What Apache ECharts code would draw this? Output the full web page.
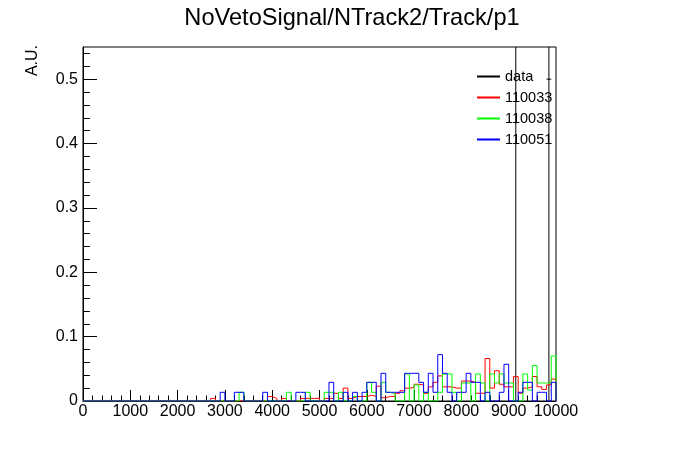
<!DOCTYPE html>
<html>
<head>
<meta charset="utf-8">
<script src="https://cdn.jsdelivr.net/npm/echarts@6/dist/echarts.min.js"></script>
<style>html,body{margin:0;padding:0;background:#fff;}#c{width:696px;height:472px;}</style>
</head>
<body>
<div id="c"></div>
<script>
const titleText = 'NoVetoSignal/NTrack2/Track/p1';
const yAxisTitle = 'A.U.';
const seriesNames = ['data', '110033', '110038', '110051'];
const binLow = 0, binWidth = 100;
// histogram contents per bin (100 bins, 0..10000)
const red = [
 0,0,0,0,0,0,0,0,0,0,
 0,0,0,0,0,0,0,0,0,0,
 0,0,0,0,0,0,0,0.004,0,0,
 0,0,0,0,0,0,0,0,0,0.007,
 0.004,0,0.004,0,0,0,0.004,0.004,0.004,0.004,
 0,0.004,0.004,0.012,0.004,0.020,0.004,0.007,0.007,0.007,
 0.009,0.007,0.023,0.005,0.007,0.007,0.012,0.016,0.020,0.021,
 0.026,0.025,0.012,0.022,0.029,0.039,0.022,0.022,0.020,0.020,
 0.031,0.031,0.029,0.012,0.012,0.066,0.020,0.047,0.026,0.022,
 0.022,0.038,0.012,0.020,0.022,0.038,0.022,0.018,0.025,0.034
];
const green = [
 0,0,0,0,0,0,0,0,0,0,
 0,0,0,0,0,0,0,0,0,0,
 0,0,0,0,0,0,0,0,0,0,
 0,0,0,0.0135,0,0,0,0,0,0,
 0,0,0,0.0135,0,0,0,0.0135,0,0,
 0,0.0135,0.0135,0,0.0135,0,0,0.007,0,0,
 0.029,0.0135,0,0.029,0.0135,0.011,0,0,0.042,0,
 0.025,0,0.0135,0,0,0.0135,0.042,0.042,0.0135,0,
 0.028,0.028,0,0.042,0.028,0,0.042,0.028,0.042,0.028,
 0.028,0,0,0.042,0.017,0.055,0.028,0.028,0.028,0.070
];
const blue = [
 0,0,0,0,0,0,0,0,0,0,
 0,0,0,0,0,0,0,0,0,0,
 0,0,0,0,0,0,0,0,0,0.0135,
 0,0,0.0135,0.0135,0,0,0,0,0.0135,0,
 0,0,0,0,0,0.0135,0.0135,0,0,0,
 0,0,0.029,0,0,0.0135,0,0.0135,0,0.0135,
 0.029,0.029,0,0.043,0.0135,0.0135,0.0135,0.0135,0.043,0.043,
 0.043,0.029,0.0135,0.043,0.0135,0.072,0.043,0.0135,0,0.0135,
 0.0135,0.043,0.029,0.029,0,0.0135,0,0,0.0135,0.057,
 0,0,0.0135,0.029,0.029,0,0.0135,0.0135,0,0.029
];
// data points: bin centre, value, error
const dataX = [9150, 9850];
const dataY = [1.0, 0.5];
const dataErr = [1.0, 0.5];
const xMin = 0, xMax = 10000, xStep = 1000;
const yMin = 0, yMax = 0.55;
const yMajorTicks = [0, 0.1, 0.2, 0.3, 0.4, 0.5];
const yMinorTicks = [0.02,0.04,0.06,0.08,0.12,0.14,0.16,0.18,0.22,0.24,0.26,0.28,0.32,0.34,0.36,0.38,0.42,0.44,0.46,0.48,0.52,0.54];

function histPoints(vals) {
  const pts = [];
  for (let i = 0; i < vals.length; i++) pts.push([binLow + i * binWidth, vals[i]]);
  pts.push([binLow + vals.length * binWidth, vals[vals.length - 1]]);
  pts.push([binLow + vals.length * binWidth, 0]);
  return pts;
}

const FONT = 'Liberation Sans';
const chart = echarts.init(document.getElementById('c'), null, {renderer: 'canvas'});

function histSeries(name, vals, color) {
  return {
    name: name, type: 'line', step: 'end', data: histPoints(vals),
    showSymbol: false, symbol: 'none', animation: false, clip: true,
    lineStyle: {color: color, width: 1}, itemStyle: {color: color}
  };
}

const option = {
  animation: false,
  backgroundColor: '#fff',
  title: {
    text: titleText, left: 347, top: 1, textAlign: 'center',
    textStyle: {fontFamily: FONT, fontSize: 23.6, fontWeight: 'normal', color: '#000'}
  },
  legend: {
    orient: 'vertical', left: 477, top: 69, padding: 0,
    itemWidth: 23, itemHeight: 2, itemGap: 6,
    icon: 'rect',
    itemStyle: {borderWidth: 0},
    textStyle: {fontFamily: FONT, fontSize: 14.5, color: '#000', lineHeight: 15},
    data: seriesNames.map(n => ({name: n}))
  },
  grid: {left: 83, right: 140, top: 47, bottom: 71, show: true, borderColor: '#000', borderWidth: 1, backgroundColor: 'transparent'},
  xAxis: {
    type: 'value', min: xMin, max: xMax, interval: xStep,
    axisLine: {show: true, lineStyle: {color: '#000', width: 1}},
    axisTick: {show: true, inside: true, length: 11, lineStyle: {color: '#000'}},
    minorTick: {show: true, splitNumber: 5, length: 5.5, lineStyle: {color: '#000'}},
    splitLine: {show: false},
    axisLabel: {fontFamily: FONT, fontSize: 16, color: '#000', margin: 3, formatter: v => String(v)}
  },
  yAxis: [{
    type: 'value', min: yMin, max: yMax,
    axisLine: {show: true, lineStyle: {color: '#000', width: 1}},
    axisTick: {show: true, inside: true, length: 14, customValues: yMajorTicks, lineStyle: {color: '#000'}},
    splitLine: {show: false},
    axisLabel: {fontFamily: FONT, fontSize: 16, color: '#000', margin: 5, customValues: yMajorTicks,
      formatter: v => (v === 0 ? '0' : v.toFixed(1))}
  }, {
    type: 'value', min: yMin, max: yMax, position: 'left',
    axisLine: {show: false},
    axisTick: {show: true, inside: true, length: 7, customValues: yMinorTicks, lineStyle: {color: '#000'}},
    splitLine: {show: false},
    axisLabel: {show: false}
  }],
  graphic: [{
    type: 'text', x: 33, y: 45, rotation: Math.PI / 2,
    style: {text: yAxisTitle, fontFamily: FONT, fontSize: 16, fill: '#000', align: 'right', verticalAlign: 'middle'}
  }],
  series: [
    histSeries(seriesNames[1], red, '#ff0000'),
    histSeries(seriesNames[2], green, '#00ff00'),
    histSeries(seriesNames[3], blue, '#0000ff'),
    {
      name: seriesNames[0], type: 'custom', clip: true, animation: false,
      itemStyle: {color: '#000'},
      data: dataX.map((x, i) => [x, dataY[i], dataErr[i]]),
      renderItem: function (params, api) {
        const x = api.value(0), y = api.value(1), e = api.value(2);
        const lo = api.coord([x, y - e]);
        const hi = api.coord([x, y + e]);
        const l = api.coord([x - binWidth / 2, y]);
        const r = api.coord([x + binWidth / 2, y]);
        const style = {stroke: '#000', lineWidth: 1};
        return {
          type: 'group',
          children: [
            {type: 'line', shape: {x1: lo[0], y1: lo[1], x2: hi[0], y2: hi[1]}, style: style},
            {type: 'line', shape: {x1: l[0], y1: l[1], x2: r[0], y2: r[1]}, style: style}
          ]
        };
      }
    }
  ]
};
chart.setOption(option);
</script>
</body>
</html>
